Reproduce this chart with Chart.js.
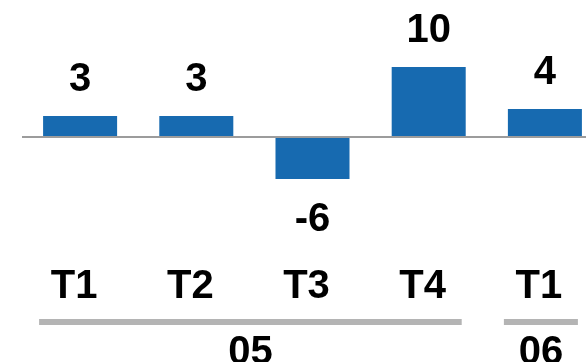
<!DOCTYPE html>
<html>
<head>
<meta charset="utf-8">
<script src="https://cdn.jsdelivr.net/npm/chart.js@4.4.1/dist/chart.umd.min.js"></script>
<style>
  html, body { margin: 0; padding: 0; overflow: hidden; background: #fff; }
  #wrap { width: 604px; height: 362px; }
</style>
</head>
<body>
<div id="wrap"><canvas id="quarterChart"></canvas></div>
<script>
// values
const quarters = ['T1', 'T2', 'T3', 'T4', 'T1'];
const values = [3, 3, -6, 10, 4];
const yearLabels = ['05', '06'];
const yearFirst = [0, 4];
const yearLast = [3, 4];

const FONT = '"Liberation Sans", Arial, sans-serif';

const valueLabels = {
    id: 'valueLabels',
    afterDatasetsDraw(chart) {
        const ctx = chart.ctx;
        const meta = chart.getDatasetMeta(0);
        ctx.save();
        ctx.font = 'bold 40px ' + FONT;
        ctx.fillStyle = '#000';
        ctx.textAlign = 'center';
        ctx.textBaseline = 'alphabetic';
        meta.data.forEach((bar, i) => {
            const v = values[i];
            const y = v >= 0 ? bar.y - 25 : bar.y + 52;
            ctx.fillText(String(v), bar.x, y);
        });
        ctx.restore();
    }
};

const yearGroups = {
    id: 'yearGroups',
    afterDraw(chart) {
        const ctx = chart.ctx;
        const x = chart.scales.x;
        ctx.save();
        ctx.font = 'bold 40px ' + FONT;
        ctx.textAlign = 'center';
        ctx.textBaseline = 'alphabetic';
        yearLabels.forEach((lab, i) => {
            const x0 = x.getPixelForValue(yearFirst[i]) - 41;
            const x1 = x.getPixelForValue(yearLast[i]) + 33;
            ctx.fillStyle = '#b4b4b4';
            ctx.fillRect(x0, 319, x1 - x0, 6);
            ctx.fillStyle = '#000';
            ctx.fillText(lab, (x0 + x1) / 2, 364);
        });
        ctx.restore();
    }
};

new Chart(document.getElementById('quarterChart').getContext('2d'), {
    type: 'bar',
    data: {
        labels: quarters,
        datasets: [{
            data: values,
            backgroundColor: '#176ab0',
            barPercentage: 0.637,
            categoryPercentage: 1
        }]
    },
    options: {
        responsive: true,
        maintainAspectRatio: false,
        animation: false,
        layout: { padding: { left: 22, right: 1, top: 39, bottom: 51 } },
        plugins: {
            legend: { display: false },
            tooltip: { enabled: false }
        },
        scales: {
            x: {
                grid: {
                    color: 'rgba(0,0,0,0)',
                    drawOnChartArea: false,
                    drawTicks: true,
                    tickLength: 42
                },
                border: { display: false },
                ticks: {
                    color: '#000',
                    font: { family: FONT, size: 40, weight: 'bold' },
                    padding: 0,
                    labelOffset: -6,
                    maxRotation: 0,
                    autoSkip: false
                }
            },
            y: {
                min: -12,
                max: 14,
                border: { display: false },
                grid: {
                    drawTicks: false,
                    lineWidth: 2,
                    color: c => c.tick.value === 0 ? '#9c9c9c' : 'rgba(0,0,0,0)'
                },
                ticks: { display: false, stepSize: 2 }
            }
        }
    },
    plugins: [valueLabels, yearGroups]
});
</script>
</body>
</html>
